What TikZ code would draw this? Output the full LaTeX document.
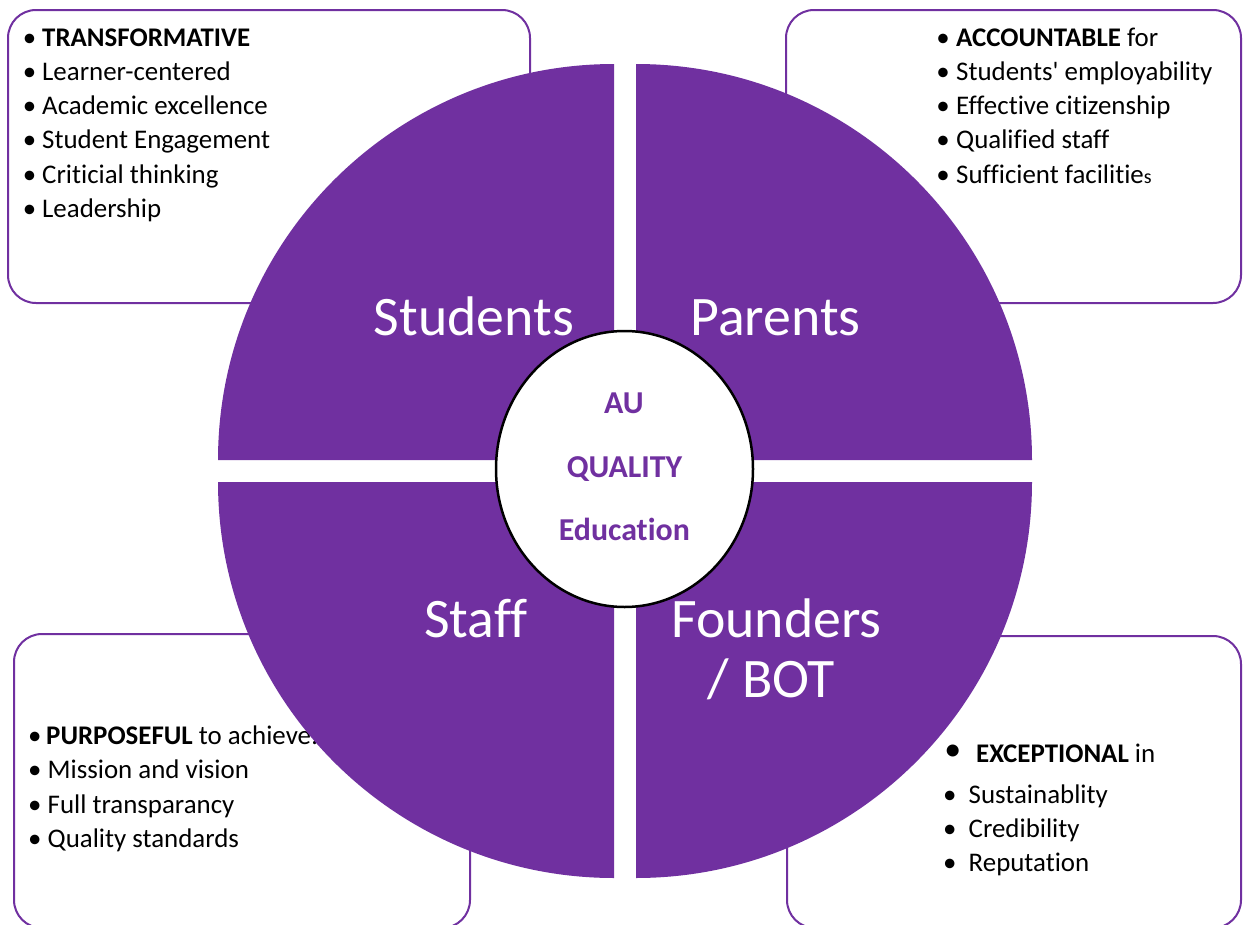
\documentclass[tikz,border=0pt]{standalone}
\usepackage{fontspec}
\setmainfont{Carlito}[Ligatures={TeXOff,CommonOff}]
\definecolor{aupurple}{HTML}{7030A0}
\begin{document}
\begin{tikzpicture}[x=1bp,y=1bp,
  panel/.style={draw=aupurple, line width=2bp, fill=white, rounded corners=28bp},
  item/.style={anchor=base west, inner sep=0pt, font=\fontsize{27}{31}\selectfont},
  bul/.style={anchor=base, inner sep=0pt, font=\fontsize{27}{31}\selectfont},
  sector/.style={fill=aupurple},
  sectlabel/.style={anchor=base, inner sep=0pt, text=white, font=\fontsize{56}{60}\selectfont},
  core/.style={anchor=base, inner sep=0pt, text=aupurple, font=\bfseries\fontsize{32}{32}\selectfont}]
\useasboundingbox (0,0) rectangle (1243,-925);
\clip (0,0) rectangle (1243,-925);

% ---- text panels (behind the wheel) ----
\draw[panel] (8,-10) rectangle (530,-303);
\draw[panel] (786,-10) rectangle (1241,-303);
\draw[panel] (14,-634) rectangle (470,-928);
\draw[panel] (787,-636) rectangle (1241,-928);

% Students panel
\foreach \yy/\nm in {46/sb1,80.3/sb2,114.6/sb3,148.9/sb4,183.2/sb5,217.5/sb6}
  \node[bul] (\nm) at (29.5,-\yy) {•};
\node[item] (s1) at (42,-46) {\textbf{TRANSFORMATIVE}};
\node[item] (s2) at (42,-80.3) {Learner-centered};
\node[item] (s3) at (42,-114.6) {Academic excellence};
\node[item] (s4) at (42,-148.9) {Student Engagement};
\node[item] (s5) at (42,-183.2) {Criticial thinking};
\node[item] (s6) at (42,-217.5) {Leadership};

% Parents panel
\foreach \yy/\nm in {46/pb1,80.3/pb2,114.6/pb3,148.9/pb4,183.2/pb5}
  \node[bul] (\nm) at (943,-\yy) {•};
\node[item] (p1) at (956,-46) {\textbf{ACCOUNTABLE} for};
\node[item] (p2) at (956,-80.3) {Students' employability};
\node[item] (p3) at (956,-114.6) {Effective citizenship};
\node[item] (p4) at (956,-148.9) {Qualified staff};
\node[item] (p5) at (956,-183.2) {Sufficient facilitie{\fontsize{20}{20}\selectfont s}};

% Staff panel
\foreach \yy/\nm in {744/fb1,778.5/fb2,813/fb3,847.5/fb4}
  \node[bul] (\nm) at (34.7,-\yy) {•};
\node[item] (f1) at (46,-744) {\textbf{PURPOSEFUL} to achieve:};
\node[item] (f2) at (47.5,-778.5) {Mission and vision};
\node[item] (f3) at (47.5,-813) {Full transparancy};
\node[item] (f4) at (47.5,-847.5) {Quality standards};

% Founders panel
\node[bul, font=\fontsize{34}{34}\selectfont] (bb1) at (952.8,-760.5) {•};
\foreach \yy/\nm in {803/bb2,837/bb3,871/bb4}
  \node[bul] (\nm) at (949.7,-\yy) {•};
\node[item] (b1) at (976,-762) {\textbf{EXCEPTIONAL} in};
\node[item] (b2) at (968.5,-803) {Sustainablity};
\node[item] (b3) at (968.5,-837) {Credibility};
\node[item] (b4) at (968.5,-871) {Reputation};

% ---- the four quarters of the wheel ----
\fill[sector] (614,-460) -- (218,-460) arc[start angle=180, end angle=90, radius=396] -- cycle;
\fill[sector] (636,-460) -- (636,-64) arc[start angle=90, end angle=0, radius=396] -- cycle;
\fill[sector] (614,-482) -- (218,-482) arc[start angle=180, end angle=270, radius=396] -- cycle;
\fill[sector] (636,-482) -- (1032,-482) arc[start angle=0, end angle=-90, radius=396] -- cycle;

\node[sectlabel] (students) at (474,-335) {Students};
\node[sectlabel] (parents) at (775.5,-335) {Parents};
\node[sectlabel] (staff) at (476,-637) {Staff};
\node[sectlabel] (founders) at (776.5,-637) {Founders};
\node[sectlabel] (bot) at (771.5,-697) {/ BOT};

% ---- hub ----
\draw[line width=2.5bp, fill=white] (624.5,-469) ellipse[x radius=128.5, y radius=138];
\node[core] (au) at (624,-413) {AU};
\node[core] (quality) at (624.5,-477) {QUALITY};
\node[core] (education) at (624.3,-540) {Education};
\end{tikzpicture}
\end{document}
